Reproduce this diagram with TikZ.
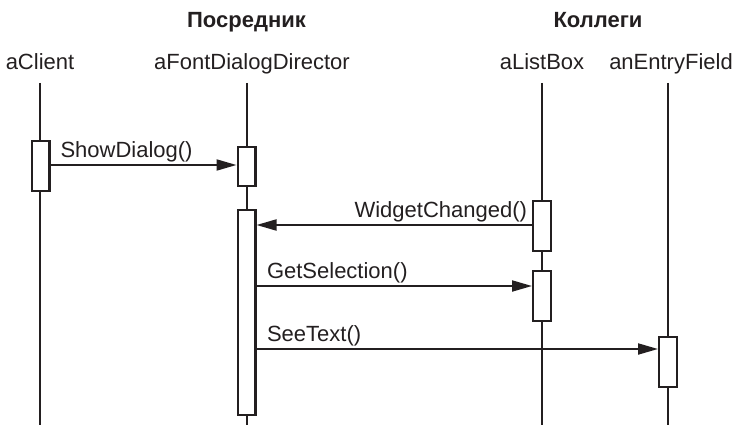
\documentclass[tikz,border=0pt]{standalone}
\usepackage{fontspec}
\setmainfont{Liberation Sans}
\usetikzlibrary{arrows.meta,positioning}
\definecolor{darkline}{HTML}{231F20}

\begin{document}
\begin{tikzpicture}[
    x=1pt, y=-1pt,
    every node/.style={text=darkline, font=\fontsize{22}{26}\selectfont},
    title/.style={inner sep=0, anchor=base, font=\bfseries\fontsize{22}{26}\selectfont},
    role/.style={inner sep=0, anchor=base},
    lifeline/.style={line width=2pt, draw=darkline},
    activation/.style={
        draw=darkline,
        line width=2.2pt,
        fill=white,
        minimum width=17.8pt,
        inner sep=0
    },
    message/.style={-{Triangle[length=20pt,width=11pt]}, line width=2pt, draw=darkline},
    msglabel/.style={inner sep=0, pos=0}
]
    \useasboundingbox (0,0) rectangle (734,425);

    % groups
    \node[title] (mediator) at (246.5,28) {Посредник};
    \node[title] (colleagues) at (598,28) {Коллеги};

    % objects
    \node[role] (client) at (40,70) {aClient};
    \node[role] (director) at (252,70) {aFontDialogDirector};
    \node[role] (listbox) at (542,70) {aListBox};
    \node[role] (entryfield) at (671,70) {anEntryField};

    % lifelines
    \coordinate (clienttop) at (40,83);
    \coordinate (directortop) at (246.5,83);
    \coordinate (listboxtop) at (542,83);
    \coordinate (entrytop) at (668,83);
    \foreach \obj in {clienttop, directortop, listboxtop, entrytop}
        \draw[lifeline] (\obj) -- (\obj |- 0,425);

    % activations
    \node[activation, minimum height=49.8pt] (clientact) at (40.5,166) {};
    \node[activation, minimum height=38.8pt] (directorfirst) at (246.5,166.5) {};
    \node[activation, minimum height=204.8pt] (directoract) at (246.5,312.5) {};
    \node[activation, minimum height=49.8pt] (listboxfirst) at (542,226) {};
    \node[activation, minimum height=49.8pt] (listboxsecond) at (542,296) {};
    \node[activation, minimum height=49.8pt] (entryact) at (668,362) {};

    % messages
    \coordinate (getsel) at (0,286);
    \coordinate (seetext) at (0,349);

    \draw[message] (clientact.east |- 0,165) -- (directorfirst.west |- 0,165)
        node[msglabel, anchor=base west, xshift=9pt, yshift=7pt] {ShowDialog()};
    \draw[message] (listboxfirst.west |- 0,225) -- (directoract.east |- 0,225)
        node[msglabel, anchor=base east, xshift=-4pt, yshift=7pt] {WidgetChanged()};
    \draw[message] (directoract.east |- getsel) -- (listboxsecond.west |- getsel)
        node[msglabel, anchor=base west, xshift=9.5pt, yshift=8pt] {GetSelection()};
    \draw[message] (directoract.east |- seetext) -- (entryact.west |- seetext)
        node[msglabel, anchor=base west, xshift=9.5pt, yshift=7.5pt] {SeeText()};
\end{tikzpicture}
\end{document}
